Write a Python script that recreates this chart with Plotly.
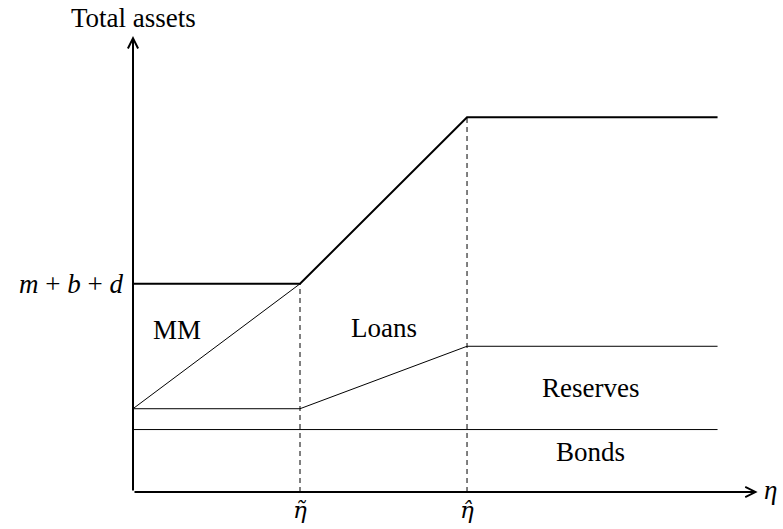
import plotly.graph_objects as go

# breakpoints on the eta axis: origin, eta tilde, eta hat, right end
eta = [0, 1, 2, 3.5]
total_assets = [5, 5, 9, 9]
reserves_top = [2, 2, 3.5, 3.5]
bonds_top = [1.5, 1.5, 1.5, 1.5]
mm_split_x = [0, 1]
mm_split_y = [2, 5]
eta_ticks = [1, 2]
eta_tick_text = ["<i>η\u0303</i>", "<i>η\u0302</i>"]
level_mbd = 5

FONT = "Liberation Serif"
X_END = 3.74
Y_END = 10.95

fig = go.Figure()

thin = dict(color="black", width=1)
fig.add_scatter(x=eta, y=total_assets, mode="lines", line=dict(color="black", width=2))
fig.add_scatter(x=mm_split_x, y=mm_split_y, mode="lines", line=thin)
fig.add_scatter(x=eta, y=reserves_top, mode="lines", line=thin)
fig.add_scatter(x=eta, y=bonds_top, mode="lines", line=thin)

# dashed guides up to the total-assets curve
for xv in eta_ticks:
    top = total_assets[eta.index(xv)]
    fig.add_scatter(x=[xv, xv], y=[0, top], mode="lines",
                    line=dict(color="black", width=1, dash="5px,4px"))

# axes with arrow tips
arrow = dict(xref="x", yref="y", axref="x", ayref="y", showarrow=True, arrowhead=5,
             arrowsize=1, arrowwidth=2, arrowcolor="black", text="")
fig.add_annotation(x=X_END, y=0, ax=0, ay=0, **arrow)
fig.add_annotation(x=0, y=Y_END, ax=0, ay=0, **arrow)

txt = dict(family=FONT, size=27, color="black")
fig.add_annotation(x=0, y=Y_END, text="Total assets", showarrow=False, font=txt,
                   yanchor="bottom", xanchor="center", yshift=1)
fig.add_annotation(x=X_END, y=0, text="<i>η</i>", showarrow=False, font=txt,
                   xanchor="left", xshift=4, yshift=2)
fig.add_annotation(x=0, y=level_mbd, text="<i>m</i> + <i>b</i> + <i>d</i>", showarrow=False,
                   font=txt, xanchor="right", xshift=-8)
for xv, lab in zip(eta_ticks, eta_tick_text):
    fig.add_annotation(x=xv, y=0, text=lab, showarrow=False,
                       font=dict(family="DejaVu Serif", size=23, color="black"),
                       yanchor="top", yshift=-3)

for label, xv, yv in [("MM", 0.263, 3.89), ("Loans", 1.5, 3.94),
                      ("Reserves", 2.74, 2.5), ("Bonds", 2.74, 0.96)]:
    fig.add_annotation(x=xv, y=yv, text=label, showarrow=False, font=txt)

fig.update_xaxes(range=[0, 3.832], visible=False)
fig.update_yaxes(range=[0, 11], visible=False)
fig.update_layout(
    width=783, height=529,
    margin=dict(l=133, r=10, t=34, b=37),
    showlegend=False,
    plot_bgcolor="white", paper_bgcolor="white",
)
fig.write_html("out.html", config={"displayModeBar": False},
               post_script="document.body.style.margin='0';")
